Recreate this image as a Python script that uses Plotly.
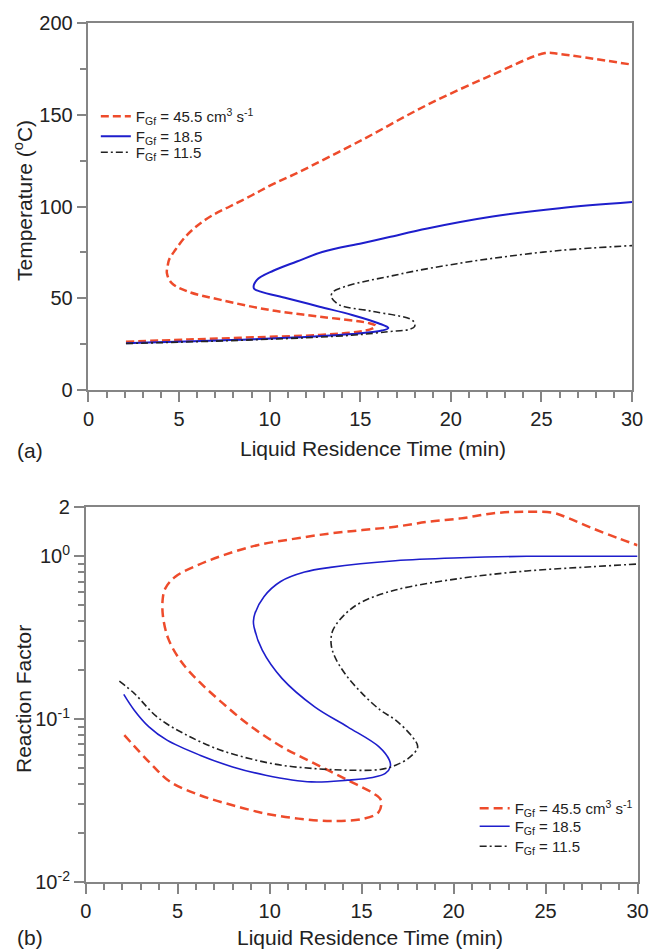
import plotly.graph_objects as go
import numpy as np

# ---------------- data: (a) temperature vs residence time ----------------
t_red_a = [2.07, 5.5, 9.1, 12.75, 14.9, 15.65, 15.85, 15.5, 12.75, 10.0, 7.3, 5.5, 4.6, 4.33, 4.38, 4.45, 4.8, 5.3, 5.95, 6.8, 7.8, 9.0, 10.1, 11.5, 15.1, 18.7, 22.3, 25.2, 26.0, 30.0]
T_red_a = [26.3, 27.5, 28.7, 30.0, 31.8, 33.4, 35.0, 36.4, 40.0, 43.6, 49.1, 53.6, 58.2, 63.6, 68.0, 71.0, 76.4, 83.0, 89.1, 95.0, 100.0, 106.0, 111.8, 118.2, 136.3, 155.4, 171.8, 183.6, 183.1, 177.3]

t_blue_a = [2.07, 9.1, 14.55, 16.2, 16.55, 16.0, 14.55, 12.75, 10.95, 9.5, 9.13, 9.3, 10.2, 11.5, 12.9, 15.1, 16.55, 18.7, 22.3, 26.0, 30.0]
T_blue_a = [25.5, 27.6, 30.5, 32.4, 33.8, 36.4, 40.9, 45.4, 50.0, 53.6, 55.4, 60.0, 65.0, 70.0, 75.2, 80.0, 83.2, 88.0, 94.5, 99.1, 102.4]

t_blk_a = [2.07, 9.0, 14.5, 16.55, 17.7, 18.0, 17.9, 15.65, 13.84, 13.4, 13.5, 14.2, 15.3, 16.55, 18.0, 20.0, 22.34, 25.97, 30.0]
T_blk_a = [25.3, 27.3, 29.8, 31.8, 33.0, 34.6, 37.8, 42.9, 46.4, 50.9, 53.5, 56.5, 59.3, 61.8, 64.8, 68.3, 71.8, 76.0, 78.7]

# ---------------- data: (b) reaction factor vs residence time ----------------
t_red_b = [2.1, 3.53, 4.6, 6.21, 7.99, 9.78, 11.56, 13.34, 15.13, 15.93, 16.05, 15.66, 14.24, 12.45, 10.67, 8.89, 7.46, 6.21, 5.2, 4.5, 4.2, 4.19, 4.33, 4.87, 6.12, 7.54, 9.33, 11.3, 13.26, 15.04, 16.83, 18.61, 20.4, 22.18, 23.97, 25.4, 26.28, 27.53, 28.96, 30.0]
R_red_b = [0.0797, 0.0534, 0.0412, 0.0341, 0.0296, 0.0263, 0.0245, 0.0237, 0.0245, 0.0269, 0.0318, 0.0349, 0.0422, 0.0534, 0.0676, 0.0919, 0.125, 0.168, 0.225, 0.31, 0.43, 0.55, 0.636, 0.75, 0.885, 1.02, 1.17, 1.28, 1.38, 1.45, 1.52, 1.63, 1.71, 1.84, 1.88, 1.85, 1.71, 1.49, 1.29, 1.17]

t_blue_b = [2.07, 2.64, 3.44, 4.42, 6.21, 7.99, 9.78, 12.27, 14.24, 15.6, 16.29, 16.56, 16.51, 15.95, 14.24, 12.45, 10.67, 9.6, 9.15, 9.12, 9.2, 9.69, 10.6, 11.9, 13.3, 16.83, 20.4, 23.97, 26.64, 30.0]
R_blue_b = [0.142, 0.1136, 0.0897, 0.0743, 0.0601, 0.0509, 0.0453, 0.0412, 0.0422, 0.0438, 0.0464, 0.0509, 0.056, 0.0676, 0.0897, 0.119, 0.178, 0.265, 0.369, 0.40, 0.446, 0.565, 0.70, 0.80, 0.855, 0.94, 0.98, 1.0, 1.0, 1.0]

t_blk_b = [1.83, 2.64, 3.89, 5.32, 7.1, 8.89, 10.67, 12.45, 14.24, 16.02, 16.85, 17.64, 18.05, 17.76, 16.85, 16.02, 15.0, 14.1, 13.52, 13.34, 13.44, 14.15, 15.04, 16.83, 20.4, 23.97, 27.53, 30.0]
R_blk_b = [0.171, 0.144, 0.103, 0.0817, 0.066, 0.0573, 0.0521, 0.0497, 0.0486, 0.0491, 0.0521, 0.0586, 0.0676, 0.0778, 0.0986, 0.1136, 0.145, 0.19, 0.245, 0.292, 0.352, 0.447, 0.526, 0.621, 0.733, 0.813, 0.863, 0.897]

names = ["F<sub>Gf</sub> = 45.5 cm<sup>3</sup> s<sup>-1</sup>", "F<sub>Gf</sub> = 18.5", "F<sub>Gf</sub> = 11.5"]

x_major = [0, 5, 10, 15, 20, 25, 30]
x_minor = [v for v in range(0, 31) if v % 5]
yA_major = [0, 50, 100, 150, 200]
yA_minor = [25, 75, 125, 175]
yB_major = [0.01, 0.1, 1, 2]
yB_text = ["10<sup>-2</sup>", "10<sup>-1</sup>", "10<sup>0</sup>", "2"]
yB_minor = [k * 0.01 for k in range(2, 10)] + [k * 0.1 for k in range(2, 10)]

RED = "#EE4B2B"
BLUE = "#1E1ECC"
BLACK = "#222222"
FONT = "Arial, Liberation Sans, sans-serif"
AX = "#858585"

L, R_, T_, B_ = 85, 14, 23, 68
W, H = 661, 950
pw, ph = W - L - R_, H - T_ - B_


def px(x):
    return (x - L) / pw


def py(y):
    return (H - B_ - y) / ph


def clamp(v):
    return min(1.0, max(0.0, v))


fig = go.Figure()

styles = [
    dict(color=RED, width=2.5, dash="8px,4px"),
    dict(color=BLUE, width=2.0, dash="solid"),
    dict(color=BLACK, width=1.6, dash="7px,3px,2px,3px"),
]
styles_b = [
    dict(color=RED, width=2.5, dash="9px,5px"),
    dict(color=BLUE, width=1.6, dash="solid"),
    dict(color=BLACK, width=1.6, dash="7px,3px,2px,3px"),
]

legA = ["legend", "legend2", "legend3"]
legB = ["legend4", "legend5", "legend6"]

for xs, ys, nm, st, lg in zip([t_red_a, t_blue_a, t_blk_a], [T_red_a, T_blue_a, T_blk_a], names, styles, legA):
    fig.add_trace(go.Scatter(x=xs, y=ys, mode="lines", name=nm, line=dict(shape="spline", smoothing=1.0, **st),
                             xaxis="x", yaxis="y", legend=lg, showlegend=True))
for xs, ys, nm, st, lg in zip([t_red_b, t_blue_b, t_blk_b], [R_red_b, R_blue_b, R_blk_b], names, styles_b, legB):
    fig.add_trace(go.Scatter(x=xs, y=ys, mode="lines", name=nm, line=dict(shape="spline", smoothing=1.0, **st),
                             xaxis="x2", yaxis="y2", legend=lg, showlegend=True))

axis_common = dict(showline=True, linecolor=AX, linewidth=1.5, mirror=True, ticks="outside",
                   ticklen=10, tickwidth=1.5, tickcolor=AX, showgrid=False, zeroline=False,
                   tickfont=dict(family=FONT, size=20, color="#222"))

leg_font = dict(family=FONT, size=15, color="#222")
legends = {}
for lg, top in zip(legA, [100, 120, 136]):
    legends[lg] = dict(x=px(96), y=py(top), xanchor="left", yanchor="top", bgcolor="rgba(0,0,0,0)", font=leg_font)
for lg, top in zip(legB, [792, 810, 830]):
    legends[lg] = dict(x=px(481), y=py(top), xanchor="left", yanchor="top", bgcolor="rgba(0,0,0,0)", font=leg_font)

fig.update_layout(
    width=W, height=H,
    margin=dict(l=L, r=R_, t=T_, b=B_),
    paper_bgcolor="white", plot_bgcolor="white",
    font=dict(family=FONT, color="#222"),
    showlegend=True,
    xaxis=dict(domain=[clamp(px(88.5)), clamp(px(641))], range=[0, 30], tickmode="array", tickvals=x_major,
               minor=dict(tickvals=x_minor, ticks="outside", ticklen=6, tickwidth=1.5, tickcolor=AX),
               anchor="y", **axis_common),
    yaxis=dict(domain=[clamp(py(390)), clamp(py(23))], range=[0, 200], tickmode="array", tickvals=yA_major,
               minor=dict(tickvals=yA_minor, ticks="outside", ticklen=7, tickwidth=1.5, tickcolor=AX),
               anchor="x", **axis_common),
    xaxis2=dict(domain=[clamp(px(85.7)), clamp(px(646.5))], range=[0, 30], tickmode="array", tickvals=x_major,
                minor=dict(tickvals=x_minor, ticks="outside", ticklen=6, tickwidth=1.5, tickcolor=AX),
                anchor="y2", **axis_common),
    yaxis2=dict(domain=[clamp(py(882)), clamp(py(507.3))], type="log", range=[-2, np.log10(2)], tickmode="array",
                tickvals=yB_major, ticktext=yB_text,
                minor=dict(tickvals=yB_minor, ticks="outside", ticklen=6, tickwidth=1.5, tickcolor=AX),
                anchor="x2", **axis_common),
    **legends,
)

ann_font = dict(family=FONT, size=21, color="#222")
annotations = [
    dict(text="Temperature (<sup>o</sup>C)", x=px(22), y=py(201), textangle=-90),
    dict(text="Reaction Factor", x=px(22), y=py(699), textangle=-90),
    dict(text="Liquid Residence Time (min)", x=px(378), y=py(448)),
    dict(text="Liquid Residence Time (min)", x=px(375), y=py(937)),
    dict(text="(a)", x=px(29.5), y=py(450)),
    dict(text="(b)", x=px(29.5), y=py(937)),
]
for a in annotations:
    fig.add_annotation(xref="paper", yref="paper", showarrow=False, xanchor="center", yanchor="middle",
                       font=ann_font, **a)

fig.write_html("out.html")
